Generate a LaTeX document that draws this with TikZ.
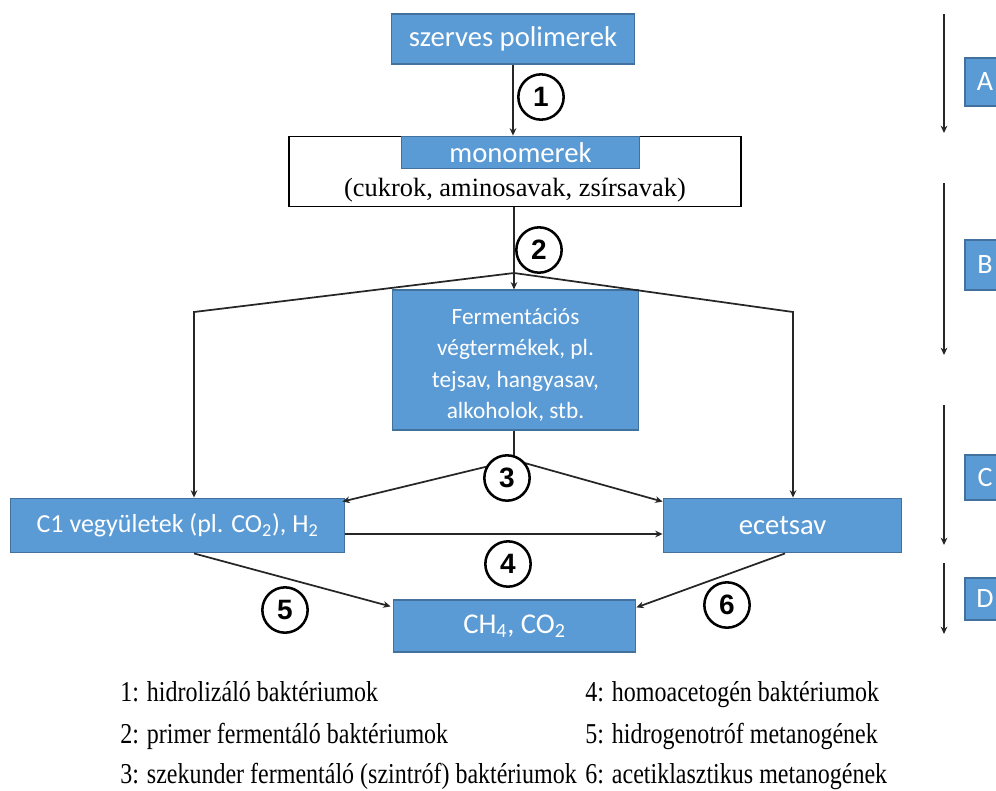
\documentclass[tikz,border=0pt]{standalone}
\usepackage{fontspec}
\setmainfont{Liberation Serif}
\newfontfamily\boxfont{Carlito}
\newfontfamily\numfont{Liberation Sans}
\usetikzlibrary{arrows.meta,calc}
\definecolor{boxblue}{HTML}{5B9BD5}
\definecolor{boxedge}{HTML}{41719C}
\definecolor{linegray}{HTML}{262626}
\newcommand{\tallline}[1]{\scalebox{1}[1.2]{#1}}
\begin{document}
\begin{tikzpicture}[x=0.75pt,y=-0.75pt,
  bluebox/.style={draw=boxedge,fill=boxblue,line width=0.9pt,text=white,
    font=\boxfont\fontsize{21.5}{25}\selectfont,inner sep=0pt,align=center},
  conn/.style={draw=linegray,line width=1.3pt},
  arr/.style={conn,-{Stealth[length=5.5pt,width=5pt]}},
  stepnum/.style={circle,draw=black,line width=1.9pt,fill=white,minimum size=34pt,
    inner sep=0pt,font=\numfont\bfseries\fontsize{21}{22}\selectfont},
  phasebox/.style={draw=boxedge,fill=boxblue,line width=0.9pt},
  phaseletter/.style={text=white,font=\boxfont\fontsize{21}{24}\selectfont},
  legend/.style={anchor=base west,inner sep=0pt,font=\fontsize{18}{20}\selectfont}]
\useasboundingbox (0,0) rectangle (996,790);
\clip (0,0) rectangle (996,790);

% main boxes
\node[bluebox,minimum width=182pt,minimum height=37.5pt] (poly) at (513,39) {szerves polimerek};
\node[draw=black,fill=white,line width=0.9pt,minimum width=339pt,minimum height=53pt,inner sep=0pt] (mono) at (515,171.5) {};
\node[bluebox,minimum width=179pt,minimum height=23.5pt] (monob) at (520.5,152.5) {monomerek};
\node[inner sep=0pt,font=\fontsize{19.8}{22}\selectfont] (cukrok) at (515,190) {(cukrok, aminosavak, zsírsavak)};
\node[bluebox,minimum width=184pt,minimum height=105pt] (ferm) at (515.5,360) {};
\node[text=white,align=center,inner sep=0pt,font=\boxfont\fontsize{17.5}{23.5}\selectfont] (fermtext) at (515.5,365)
  {Fermentációs\\végtermékek, pl.\\tejsav, hangyasav,\\alkoholok, stb.};
\node[bluebox,minimum width=251pt,minimum height=41pt,font=\boxfont\fontsize{19.5}{24}\selectfont] (c1) at (177.5,525.5) {C1 vegyületek (pl. CO\textsubscript{2}), H\textsubscript{2}};
\node[bluebox,minimum width=179pt,minimum height=41pt] (ecet) at (782.5,525.5) {ecetsav};
\node[bluebox,minimum width=182pt,minimum height=39pt] (ch4) at (514.5,626) {CH\textsubscript{4}, CO\textsubscript{2}};

% branch points
\coordinate (split2) at (514,273);
\coordinate (lcorner) at (194,312);
\coordinate (rcorner) at (793,312);
\coordinate (split3) at (514,460);
\coordinate (y4) at (0,534);
\coordinate (s6) at (785,0);

% connectors
\draw[arr] (poly.south) -- (poly.south |- mono.north);
\draw[conn] (split2 |- mono.south) -- (split2);
\draw[arr] (split2) -- (split2 |- ferm.north);
\draw[arr] (split2) -- (lcorner) -- (lcorner |- c1.north);
\draw[arr] (split2) -- (rcorner) -- (rcorner |- ecet.north);
\draw[conn] (split3 |- ferm.south) -- (split3);
\draw[arr] (split3) -- ($(c1.north east)+(-3,4)$);
\draw[arr] (split3) -- ($(ecet.north west)+(0,4)$);
\draw[arr] (c1.east |- y4) -- (ecet.west |- y4);
\draw[arr] (lcorner |- c1.south) -- ($(ch4.north west)+(-2,7)$);
\draw[arr] (s6 |- ecet.south) -- ($(ch4.north east)+(0,8)$);

% step numbers
\node[stepnum] (n1) at (541,97) {1};
\node[stepnum] (n2) at (539,250) {2};
\node[stepnum] (n3) at (507,478) {3};
\node[stepnum] (n4) at (508,564) {4};
\node[stepnum] (n5) at (285,610) {5};
\node[stepnum] (n6) at (727,605) {6};

% phases
\coordinate (pa1) at (944,14);  \coordinate (pa2) at (944,133);
\coordinate (pb1) at (944,183); \coordinate (pb2) at (944,355);
\coordinate (pc1) at (944,405); \coordinate (pc2) at (944,545);
\coordinate (pd1) at (944,563); \coordinate (pd2) at (944,634);
\draw[arr] (pa1) -- (pa2);
\draw[arr] (pb1) -- (pb2);
\draw[arr] (pc1) -- (pc2);
\draw[arr] (pd1) -- (pd2);
\path[phasebox] (965,58) rectangle (1010,106);
\path[phasebox] (965,240) rectangle (1010,290);
\path[phasebox] (965,455) rectangle (1010,500);
\path[phasebox] (965,578) rectangle (1010,620);
\node[phaseletter] (la) at (985,82) {A};
\node[phaseletter] (lb) at (985,265) {B};
\node[phaseletter] (lc) at (985,477) {C};
\node[phaseletter] (ld) at (985,599) {D};

% legend
\node[legend] (l1) at (120,701) {\tallline{1: hidrolizáló baktériumok}};
\node[legend] (l2) at (120,743) {\tallline{2: primer fermentáló baktériumok}};
\node[legend] (l3) at (120,783) {\tallline{3: szekunder fermentáló (szintróf) baktériumok}};
\node[legend] (l4) at (585,701) {\tallline{4: homoacetogén baktériumok}};
\node[legend] (l5) at (585,743) {\tallline{5: hidrogenotróf metanogének}};
\node[legend] (l6) at (585,783) {\tallline{6: acetiklasztikus metanogének}};
\end{tikzpicture}
\end{document}
